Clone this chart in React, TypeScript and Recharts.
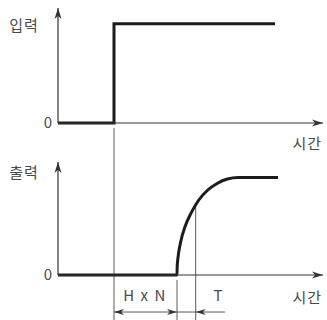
import { LineChart, Line, XAxis, YAxis, ReferenceLine, ReferenceDot } from "recharts";

// time axis in arbitrary units, level axis normalised to 1
const T_MAX = 26.5;
const Y_MAX = 1.16;

const inputSignal = [
  { t: 0, v: 0 },
  { t: 5.6, v: 0 },
  { t: 5.6, v: 1 },
  { t: 21.7, v: 1 },
];

// (rounded rise after the dead time)
const outputSignal = [
  { t: 0, v: 0 },
  { t: 11.9, v: 0 },
  { t: 11.92, v: 0.09 },
  { t: 11.99, v: 0.17 },
  { t: 12.27, v: 0.34 },
  { t: 12.72, v: 0.5 },
  { t: 13.33, v: 0.64 },
  { t: 14.08, v: 0.77 },
  { t: 14.95, v: 0.87 },
  { t: 15.91, v: 0.94 },
  { t: 16.94, v: 0.985 },
  { t: 18.0, v: 1 },
  { t: 22.0, v: 1 },
];

const stepTime = 5.6;
const deadEnd = 11.9;
const tMark = 13.77;
const tMarkLevel = 0.72;
const dimLevel = -0.38;
const dimEnd = 16.7;

const yTicks = [0];
const labels = { input: "입력", output: "출력", time: "시간", dead: "H x N", tau: "T" };

const FONT = "'Noto Sans CJK KR', 'Noto Sans', sans-serif";
const INK = "#1c1c1c";
const AXIS = "#333";
const GUIDE = "#5a5a5a";
const TEXT = "#4a4a4a";

// barbed arrow head, dir in degrees (0 = pointing right)
const head = (dir: number, len: number, half: number, color: string) => (p: any) => (
  <path
    d={`M0,0 L${-len},${-half} L${-len * 0.72},0 L${-len},${half} Z`}
    transform={`translate(${p.cx},${p.cy}) rotate(${dir})`}
    fill={color}
  />
);

const text = (s: string, dx: number, dy: number, anchor: "start" | "middle" | "end" = "middle", spacing = 0) => (p: any) => (
  <text
    x={p.cx + dx}
    y={p.cy + dy}
    textAnchor={anchor}
    dominantBaseline="central"
    fontFamily={FONT}
    fontSize={15}
    letterSpacing={spacing}
    fill={TEXT}
  >
    {s}
  </text>
);

export default function App() {
  const tickStyle = { fontFamily: FONT, fontSize: 15, fill: TEXT };
  return (
    <div style={{ position: "absolute", left: 0, top: 0, width: 327, height: 320, background: "#fff" }}>
      <LineChart width={327} height={160} data={inputSignal} margin={{ top: 8, right: 4, left: 0, bottom: 7 }}>
        <XAxis type="number" dataKey="t" domain={[0, T_MAX]} tick={false} tickLine={false} height={30} axisLine={{ stroke: AXIS, strokeWidth: 1.2 }} />
        <YAxis type="number" domain={[0, Y_MAX]} ticks={yTicks} width={58} tickLine={false} tickSize={4} tickMargin={2} tick={tickStyle} axisLine={{ stroke: AXIS, strokeWidth: 1.2 }} />
        <ReferenceDot x={T_MAX} y={0} ifOverflow="visible" shape={head(0, 11, 3.5, AXIS)} />
        <ReferenceDot x={0} y={Y_MAX} ifOverflow="visible" shape={head(-90, 11, 3.5, AXIS)} />
        <ReferenceLine segment={[{ x: stepTime, y: -0.05 }, { x: stepTime, y: -0.4 }]} ifOverflow="visible" stroke={GUIDE} strokeWidth={1} />
        <Line type="linear" dataKey="v" stroke={INK} strokeWidth={3} strokeLinejoin="miter" dot={false} isAnimationActive={false} />
        <ReferenceDot x={0} y={0.99} ifOverflow="visible" shape={text(labels.input, -34, 0, "middle", 1)} />
        <ReferenceDot x={T_MAX} y={0} ifOverflow="visible" shape={text(labels.time, -1, 19, "end", 1)} />
      </LineChart>
      <LineChart width={327} height={160} data={outputSignal} margin={{ top: 2, right: 4, left: 0, bottom: 15 }}>
        <XAxis type="number" dataKey="t" domain={[0, T_MAX]} tick={false} tickLine={false} height={30} axisLine={{ stroke: AXIS, strokeWidth: 1.2 }} />
        <YAxis type="number" domain={[0, Y_MAX]} ticks={yTicks} width={58} tickLine={false} tickSize={4} tickMargin={2} tick={tickStyle} axisLine={{ stroke: AXIS, strokeWidth: 1.2 }} />
        <ReferenceDot x={T_MAX} y={0} ifOverflow="visible" shape={head(0, 11, 3.5, AXIS)} />
        <ReferenceDot x={0} y={Y_MAX} ifOverflow="visible" shape={head(-90, 11, 3.5, AXIS)} />
        <ReferenceLine segment={[{ x: stepTime, y: 1.25 }, { x: stepTime, y: -0.5 }]} ifOverflow="visible" stroke={GUIDE} strokeWidth={1} />
        <ReferenceLine segment={[{ x: deadEnd, y: -0.05 }, { x: deadEnd, y: -0.5 }]} ifOverflow="visible" stroke={GUIDE} strokeWidth={1} />
        <ReferenceLine segment={[{ x: tMark, y: tMarkLevel }, { x: tMark, y: -0.5 }]} ifOverflow="visible" stroke={GUIDE} strokeWidth={1} />
        <ReferenceLine segment={[{ x: stepTime, y: dimLevel }, { x: dimEnd, y: dimLevel }]} ifOverflow="visible" stroke={GUIDE} strokeWidth={1} />
        <ReferenceDot x={stepTime} y={dimLevel} ifOverflow="visible" shape={head(180, 10, 3, AXIS)} />
        <ReferenceDot x={deadEnd} y={dimLevel} ifOverflow="visible" shape={head(0, 10, 3, AXIS)} />
        <ReferenceDot x={tMark} y={dimLevel} ifOverflow="visible" shape={head(180, 10, 3, AXIS)} />
        <Line type="monotone" dataKey="v" stroke={INK} strokeWidth={3} dot={false} isAnimationActive={false} />
        <ReferenceDot x={0} y={1.06} ifOverflow="visible" shape={text(labels.output, -34, 0, "middle", 1)} />
        <ReferenceDot x={T_MAX} y={0} ifOverflow="visible" shape={text(labels.time, -1, 21, "end", 1)} />
        <ReferenceDot x={8.7} y={-0.2} ifOverflow="visible" shape={text(labels.dead, 0, 0, "middle", 1.5)} />
        <ReferenceDot x={16.0} y={-0.2} ifOverflow="visible" shape={text(labels.tau, 0, 0, "middle")} />
      </LineChart>
    </div>
  );
}
